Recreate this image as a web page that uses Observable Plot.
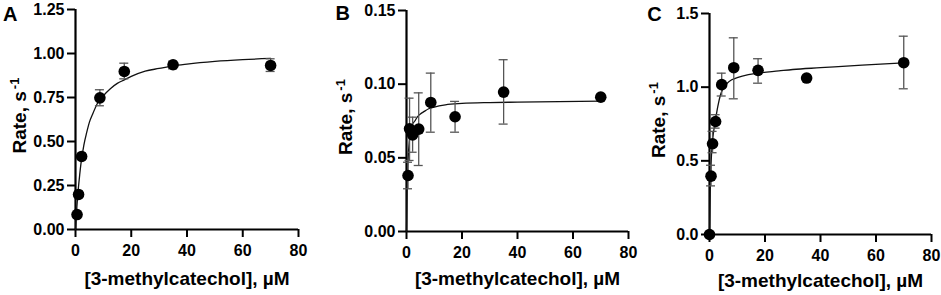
<!DOCTYPE html>
<html><head><meta charset="utf-8">
<script src="https://cdn.jsdelivr.net/npm/d3@7"></script>
<script src="https://cdn.jsdelivr.net/npm/@observablehq/plot@0.6"></script>
<style>
html,body{margin:0;padding:0;background:#fff;}
#wrap{position:relative;width:941px;height:295px;overflow:hidden;background:#fff;}
.panel{position:absolute;top:0;}
</style></head><body><div id="wrap"></div>
<script>
// ---- shared text / ticks ----
const xTicks = [0, 20, 40, 60, 80];
const xLabel = "[3-methylcatechol], µM";
const yLabelMain = "Rate, s";
const yLabelSup = "-1";

// ---- Panel A ----
const concA = [0.55, 1.1, 2.2, 8.75, 17.5, 35, 70];
const rateA = [0.085, 0.199, 0.415, 0.748, 0.898, 0.936, 0.932];
const errLoA = [null, null, null, 0.703, 0.856, 0.913, 0.898];
const errHiA = [null, null, null, 0.794, 0.945, 0.956, 0.970];
const fitXA = [0, 0.5, 1, 1.5, 2, 3, 4, 5, 6, 8, 10, 12.5, 15, 17.5, 20, 25, 30, 35, 40, 50, 60, 70];
const fitYA = [0, 0.13, 0.23, 0.31, 0.38, 0.48, 0.55, 0.61, 0.65, 0.72, 0.76, 0.80, 0.83, 0.85, 0.87, 0.90, 0.915, 0.93, 0.94, 0.955, 0.965, 0.972];
const yTicksA = [0, 0.25, 0.5, 0.75, 1, 1.25];

// ---- Panel B ----
const concB = [0.55, 1.1, 2.2, 4.4, 8.75, 17.5, 35, 70];
const rateB = [0.038, 0.0697, 0.0656, 0.0695, 0.0876, 0.0779, 0.0946, 0.0912];
const errLoB = [0.029, 0.0482, 0.0538, 0.0448, 0.0674, 0.0674, 0.0729, null];
const errHiB = [0.047, 0.0905, 0.0776, 0.0941, 0.1075, 0.0883, 0.1166, null];
const fitXB = [0, 0.25, 0.5, 1, 1.5, 2, 3, 4, 5, 6, 8, 10, 14, 20, 30, 40, 55, 70];
const fitYB = [0, 0.032, 0.046, 0.061, 0.068, 0.072, 0.075, 0.078, 0.0798, 0.081, 0.0833, 0.0845, 0.086, 0.0869, 0.0875, 0.0878, 0.0882, 0.0885];
const yTicksB = [0, 0.05, 0.10, 0.15];

// ---- Panel C ----
const concC = [0, 0.55, 1.1, 2.2, 4.4, 8.75, 17.5, 35, 70];
const rateC = [0, 0.396, 0.616, 0.767, 1.017, 1.132, 1.114, 1.062, 1.166];
const errLoC = [null, 0.33, 0.555, 0.722, 0.94, 0.921, 1.027, null, 0.989];
const errHiC = [null, 0.47, 0.70, 0.813, 1.095, 1.335, 1.193, null, 1.346];
const fitXC = [0, 0.25, 0.5, 1, 1.5, 2, 3, 4, 5, 6, 8, 10, 14, 17.5, 25, 30, 40, 55, 70];
const fitYC = [0, 0.28, 0.45, 0.62, 0.70, 0.76, 0.87, 0.95, 0.995, 1.02, 1.05, 1.065, 1.085, 1.095, 1.11, 1.12, 1.132, 1.15, 1.165];
const yTicksC = [0, 0.5, 1.0, 1.5];

const panels = [
  {name: "A", conc: concA, rate: rateA, lo: errLoA, hi: errHiA, fitX: fitXA, fitY: fitYA, yTicks: yTicksA, yMax: 1.25, fmt: ".2f",
   left: 0, width: 320, ml: 75, mr: 22, mt: 9, mb: 66, labX: 2.5, labBase: 20.7, ylabBase: 25.5, xlabBase: 284},
  {name: "B", conc: concB, rate: rateB, lo: errLoB, hi: errHiB, fitX: fitXB, fitY: fitYB, yTicks: yTicksB, yMax: 0.15, fmt: ".2f",
   left: 320, width: 320, ml: 86, mr: 12, mt: 10, mb: 64, labX: 15, labBase: 19.5, ylabBase: 31, xlabBase: 284},
  {name: "C", conc: concC, rate: rateC, lo: errLoC, hi: errHiC, fitX: fitXC, fitY: fitYC, yTicks: yTicksC, yMax: 1.5, fmt: ".1f",
   left: 640, width: 301, ml: 69, mr: 10, mt: 13, mb: 61, labX: 6.7, labBase: 20.7, ylabBase: 24, xlabBase: 286}
];

const H = 295;
const font = "'Liberation Sans', Arial, Helvetica, sans-serif";
const wrap = document.getElementById("wrap");

for (const p of panels) {
  const pts = p.conc.map((x, i) => ({x, y: p.rate[i], lo: p.lo[i], hi: p.hi[i]}));
  const errs = pts.filter(d => d.lo != null);
  const fit = p.fitX.map((x, i) => ({x, y: p.fitY[i]}));
  const bottomY = H - p.mb;
  const fsMain = 19, fsSup = 13, fsX = 19, fsLab = 20;
  const mainLen = 3.279 * fsMain;
  const capStyle = {stroke: "#555", strokeWidth: 1.3, insetLeft: -4.5, insetRight: -4.5};
  const chart = Plot.plot({
    width: p.width, height: H,
    marginLeft: p.ml, marginRight: p.mr, marginTop: p.mt, marginBottom: p.mb,
    style: {fontFamily: font, fontWeight: "bold", fontSize: "16px", color: "#000", background: "transparent", overflow: "visible"},
    x: {domain: [0, 80]},
    y: {domain: [0, p.yMax]},
    marks: [
      Plot.axisX({ticks: xTicks, tickSize: 8, tickPadding: 7, strokeWidth: 2, fontSize: 16, fontWeight: "bold", tickFormat: d3.format("d"), label: null}),
      Plot.axisY({ticks: p.yTicks, tickSize: 8, tickPadding: 3, strokeWidth: 2, fontSize: 16, fontWeight: "bold", tickFormat: d3.format(p.fmt), label: null}),
      Plot.ruleX([0], {stroke: "#000", strokeWidth: 2.2}),
      Plot.ruleY([0], {stroke: "#000", strokeWidth: 2.2}),
      Plot.line(fit, {x: "x", y: "y", curve: "monotone-x", stroke: "#111", strokeWidth: 1.3}),
      Plot.ruleX(errs, {x: "x", y1: "lo", y2: "hi", stroke: "#555", strokeWidth: 1.3}),
      Plot.ruleY(errs, {y: "lo", x1: "x", x2: "x", ...capStyle}),
      Plot.ruleY(errs, {y: "hi", x1: "x", x2: "x", ...capStyle}),
      Plot.dot(pts, {x: "x", y: "y", r: 5.8, fill: "#000", stroke: "none"}),
      // panel letter
      Plot.text([p.name], {text: d => d, frameAnchor: "top-left", textAnchor: "start", lineAnchor: "middle",
        dx: p.labX - p.ml, dy: p.labBase - 0.32 * fsLab - p.mt, fontSize: fsLab, fontWeight: "bold", fill: "#000"}),
      // x axis title
      Plot.text([xLabel], {text: d => d, frameAnchor: "bottom", textAnchor: "middle", lineAnchor: "middle",
        dy: p.xlabBase - 0.32 * fsX - bottomY, fontSize: fsX, fontWeight: "bold", fill: "#000"}),
      // y axis title
      Plot.text([yLabelMain], {text: d => d, frameAnchor: "left", textAnchor: "start", lineAnchor: "middle", rotate: -90,
        dx: p.ylabBase - 0.32 * fsMain - p.ml, dy: 34, fontSize: fsMain, fontWeight: "bold", fill: "#000"}),
      Plot.text([yLabelSup], {text: d => d, frameAnchor: "left", textAnchor: "start", lineAnchor: "middle", rotate: -90,
        dx: p.ylabBase - 7 - 0.32 * fsSup - p.ml, dy: 34 - mainLen - 2, fontSize: fsSup, fontWeight: "bold", fill: "#000"})
    ]
  });
  const div = document.createElement("div");
  div.className = "panel";
  div.style.left = p.left + "px";
  div.style.width = p.width + "px";
  div.appendChild(chart);
  wrap.appendChild(div);
}
</script>
</body></html>
